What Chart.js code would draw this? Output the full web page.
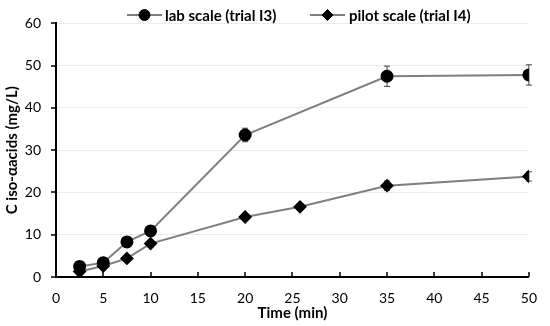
<!DOCTYPE html>
<html>
<head>
<meta charset="utf-8">
<script src="https://cdn.jsdelivr.net/npm/chart.js@4.4.1/dist/chart.umd.min.js"></script>
<style>
html,body{margin:0;padding:0;background:#fff;}
#wrap{width:550px;height:326px;position:relative;}
</style>
</head>
<body>
<div id="wrap"><canvas id="c" width="550" height="326"></canvas></div>
<script>
const xTicks = [0,5,10,15,20,25,30,35,40,45,50];
const yTicks = [0,10,20,30,40,50,60];

const labTime = [2.5, 5, 7.5, 10, 20, 35, 50];
const labConc = [2.5, 3.4, 8.3, 10.9, 33.6, 47.5, 47.8];
const labErr  = [0.3, 0.3, 0.4, 0.5, 1.6, 2.4, 2.4];

const pilotTime = [2.5, 5, 7.5, 10, 20, 25.8, 35, 50];
const pilotConc = [1.3, 2.6, 4.4, 7.9, 14.2, 16.6, 21.6, 23.8];
const pilotErr  = [0.2, 0.2, 0.3, 0.3, 0.5, 0.6, 1.1, 1.1];

const seriesLabels = ['lab scale (trial I3)', 'pilot scale (trial I4)'];
const seriesErr = [labErr, pilotErr];

const FONT = 'Lato, "Open Sans", sans-serif';

function pts(xs, ys){ return xs.map((x,i)=>({x:x, y:ys[i]})); }

const errorBars = {
  id:'errorBars',
  beforeDatasetsDraw(chart){
    const ctx = chart.ctx, xs = chart.scales.x, ys = chart.scales.y;
    ctx.save();
    ctx.strokeStyle = '#404040';
    ctx.lineWidth = 1;
    chart.data.datasets.forEach((ds, di)=>{
      const err = seriesErr[di];
      ds.data.forEach((p, i)=>{
        const e = err[i];
        const px = xs.getPixelForValue(p.x);
        const y1 = ys.getPixelForValue(p.y + e), y2 = ys.getPixelForValue(p.y - e);
        ctx.beginPath();
        ctx.moveTo(px, y1); ctx.lineTo(px, y2);
        ctx.moveTo(px-3, y1); ctx.lineTo(px+3, y1);
        ctx.moveTo(px-3, y2); ctx.lineTo(px+3, y2);
        ctx.stroke();
      });
    });
    ctx.restore();
  }
};

const axisTicks = {
  id:'axisTicks',
  afterDraw(chart){
    const ctx = chart.ctx, xs = chart.scales.x, ys = chart.scales.y, a = chart.chartArea;
    ctx.save();
    ctx.strokeStyle = '#000';
    ctx.lineWidth = 1.5;
    ctx.beginPath();
    xTicks.forEach(v=>{
      const px = Math.round(xs.getPixelForValue(v));
      ctx.moveTo(px, a.bottom); ctx.lineTo(px, a.bottom - 5);
    });
    yTicks.forEach(v=>{
      const py = Math.round(ys.getPixelForValue(v));
      ctx.moveTo(a.left, py); ctx.lineTo(a.left - 5, py);
    });
    ctx.stroke();

    // legend
    const items = [
      {x0:127, style:'circle', tx:165},
      {x0:310, style:'rectRot', tx:349}
    ];
    const ly = 15;
    ctx.font = 'bold 15px ' + FONT;
    ctx.textBaseline = 'middle';
    ctx.textAlign = 'left';
    items.forEach((it, i)=>{
      ctx.strokeStyle = '#7f7f7f';
      ctx.lineWidth = 2;
      ctx.beginPath();
      ctx.moveTo(it.x0, ly); ctx.lineTo(it.x0 + 35, ly);
      ctx.stroke();
      ctx.fillStyle = '#000';
      ctx.strokeStyle = '#000';
      ctx.lineWidth = 1;
      Chart.helpers.drawPoint(ctx, {pointStyle: it.style, radius: 5.5, borderWidth: 1, rotation: 0}, it.x0 + 17.5, ly);
      ctx.fillStyle = '#000';
      ctx.fillText(seriesLabels[i], it.tx, ly + 1);
    });
    ctx.restore();
  }
};

new Chart(document.getElementById('c'), {
  type:'line',
  data:{
    datasets:[
      {label: seriesLabels[0], data: pts(labTime, labConc), borderColor:'#7f7f7f', borderWidth:2,
       pointStyle:'circle', pointRadius:5.5, pointBackgroundColor:'#000', pointBorderColor:'#000', tension:0},
      {label: seriesLabels[1], data: pts(pilotTime, pilotConc), borderColor:'#7f7f7f', borderWidth:2,
       pointStyle:'rectRot', pointRadius:5.5, pointBackgroundColor:'#000', pointBorderColor:'#000', tension:0}
    ]
  },
  options:{
    responsive:false,
    animation:false,
    events:[],
    layout:{padding:{left:0, right:12, top:14, bottom:0}},
    plugins:{legend:{display:false}, tooltip:{enabled:false}},
    scales:{
      x:{
        type:'linear', min:0, max:50,
        afterBuildTicks(s){ s.ticks = xTicks.map(v=>({value:v})); },
        afterFit(s){ s.height = 49; },
        grid:{display:false, drawTicks:false},
        border:{display:true, color:'#000', width:2},
        ticks:{color:'#000', padding:13, font:{family:FONT, size:14}, maxRotation:0},
        title:{display:true, text:'Time (min)', color:'#000', font:{family:FONT, size:15, weight:'bold'}, padding:{top:0,bottom:4}}
      },
      y:{
        type:'linear', min:0, max:60,
        afterBuildTicks(s){ s.ticks = yTicks.map(v=>({value:v})); },
        afterFit(s){ s.width = 56; },
        grid:{color:'#ebebeb', lineWidth:1, drawTicks:false},
        border:{display:true, color:'#000', width:2},
        ticks:{color:'#000', padding:15, font:{family:FONT, size:14}},
        title:{display:true, text:'C iso-αacids (mg/L)', color:'#000', font:{family:FONT, size:15, weight:'bold'}, padding:{top:3,bottom:0}}
      }
    }
  },
  plugins:[errorBars, axisTicks]
});
</script>
</body>
</html>
